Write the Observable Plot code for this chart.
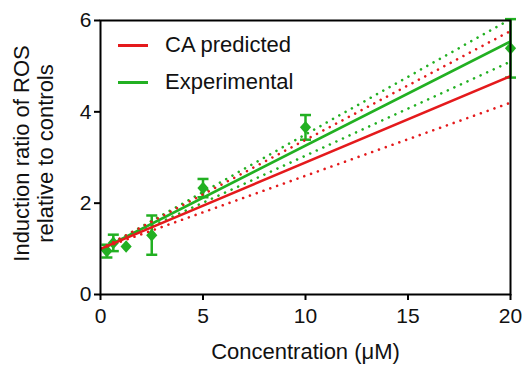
<!DOCTYPE html>
<html><head><meta charset="utf-8">
<style>
html,body{margin:0;padding:0;background:#fff;}
#wrap{position:relative;width:526px;height:365px;font-family:"Liberation Sans",Arial,sans-serif;}
.legend{position:absolute;left:118px;top:26.5px;font-size:22px;color:#111;}
.item{display:flex;align-items:center;height:37px;white-space:nowrap;}
.sw{width:30px;height:3px;margin-right:17px;}
</style>
<script src="https://cdn.jsdelivr.net/npm/d3@7"></script>
<script src="https://cdn.jsdelivr.net/npm/@observablehq/plot@0.6"></script>
</head><body><div id="wrap"></div>
<script>
// Experimental data (concentration in µM, ROS induction ratio, SD)
const concentrations = [0.3125, 0.625, 1.25, 2.5, 5, 10, 20];
const meanRatio = [0.95, 1.13, 1.05, 1.30, 2.33, 3.66, 5.39];
const sdRatio = [0.14, 0.18, 0, 0.43, 0.20, 0.27, 0.64];

// Fitted / predicted lines (endpoints at 0 and 20 µM)
const lineX = [0, 20];
const caPredicted = [1.0, 4.78];
const caLower = [1.0, 4.2];
const caUpper = [1.0, 5.77];
const expFit = [0.98, 5.54];
const expLower = [0.98, 5.1];
const expUpper = [0.98, 6.03];

const xTicks = [0, 5, 10, 15, 20];
const yTicks = [0, 2, 4, 6];
const seriesNames = ["CA predicted", "Experimental"];
const xTitle = "Concentration (\u03bcM)";
const yTitle = "Induction ratio of ROS\nrelative to controls";

const RED = "#e41a1c", GREEN = "#22b022";

const points = concentrations.map((c, i) => ({x: c, y: meanRatio[i], lo: meanRatio[i] - sdRatio[i], hi: meanRatio[i] + sdRatio[i], sd: sdRatio[i]}));
const bars = points.filter(d => d.sd > 0);
const caps = bars.flatMap(d => [{x: d.x, y: d.lo}, {x: d.x, y: d.hi}]);
const mk = arr => lineX.map((x, i) => ({x, y: arr[i]}));

const capSymbol = {draw(ctx) { ctx.moveTo(-5.5, 0); ctx.lineTo(5.5, 0); }};
const diamondSymbol = {draw(ctx) { ctx.moveTo(0, -6.3); ctx.lineTo(5.6, 0); ctx.lineTo(0, 6.3); ctx.lineTo(-5.6, 0); ctx.closePath(); }};

const dot = {strokeWidth: 2.6, strokeDasharray: "0.01,7.2", strokeLinecap: "round", clip: true};
const chart = Plot.plot({
  width: 526, height: 365,
  marginLeft: 100, marginRight: 16, marginTop: 20, marginBottom: 71,
  style: {fontFamily: '"Liberation Sans", Arial, sans-serif', fontSize: "21px", color: "#111", background: "#fff"},
  x: {domain: [0, 20]},
  y: {domain: [0, 6]},
  marks: [
    Plot.line(mk(expUpper), {x: "x", y: "y", stroke: GREEN, ...dot}),
    Plot.line(mk(expLower), {x: "x", y: "y", stroke: GREEN, ...dot}),
    Plot.line(mk(expFit), {x: "x", y: "y", stroke: GREEN, strokeWidth: 2.6, clip: true}),
    Plot.ruleX(bars, {x: "x", y1: "lo", y2: "hi", stroke: GREEN, strokeWidth: 2.5}),
    Plot.dot(caps, {x: "x", y: "y", symbol: capSymbol, stroke: GREEN, strokeWidth: 2.5, fill: "none", r: 5}),
    Plot.dot(points, {x: "x", y: "y", symbol: diamondSymbol, fill: GREEN, stroke: "none", r: 5}),
    Plot.line(mk(caUpper), {x: "x", y: "y", stroke: RED, ...dot}),
    Plot.line(mk(caLower), {x: "x", y: "y", stroke: RED, ...dot}),
    Plot.line(mk(caPredicted), {x: "x", y: "y", stroke: RED, strokeWidth: 2.6, clip: true}),
    Plot.frame({stroke: "#000", strokeWidth: 2}),
    Plot.axisX({ticks: xTicks, tickFormat: d3.format("d"), tickSize: 6, tickPadding: 8, label: null, strokeWidth: 2, stroke: "#000", fill: "#111"}),
    Plot.axisY({ticks: yTicks, tickFormat: d3.format("d"), tickSize: 6, tickPadding: 3, label: null, strokeWidth: 2, stroke: "#000", fill: "#111"}),
    Plot.text([xTitle], {text: d => d, frameAnchor: "bottom", dy: 57.5, lineAnchor: "middle", textAnchor: "middle", fontSize: 22, fill: "#111"}),
    Plot.text([yTitle], {text: d => d, frameAnchor: "left", dx: -67, dy: -4, rotate: -90, lineAnchor: "middle", textAnchor: "middle", lineHeight: 1.1, fontSize: 22, fill: "#111"})
  ]
});
const wrap = document.getElementById("wrap");
wrap.appendChild(chart);
const legend = document.createElement("div");
legend.className = "legend";
[RED, GREEN].forEach((c, i) => {
  const item = document.createElement("div");
  item.className = "item";
  const sw = document.createElement("span");
  sw.className = "sw"; sw.style.background = c;
  const t = document.createElement("span");
  t.textContent = seriesNames[i];
  item.appendChild(sw); item.appendChild(t);
  legend.appendChild(item);
});
wrap.appendChild(legend);
</script>
</body></html>
